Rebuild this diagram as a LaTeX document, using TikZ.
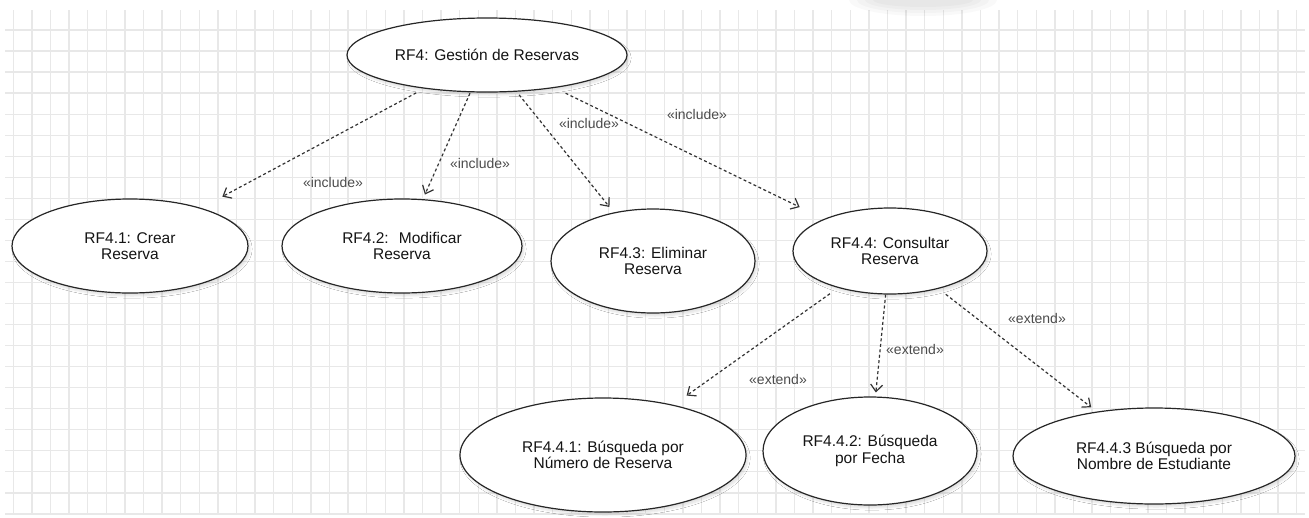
\documentclass[tikz,border=0pt]{standalone}
\usepackage{fontspec}
\setmainfont{Liberation Sans}
\usetikzlibrary{shapes.geometric,arrows.meta,shadows.blur}

\begin{document}
\begin{tikzpicture}[x=1pt,y=-1pt,
  usecase/.style={ellipse, draw=black!85, line width=1.2pt, fill=white,
    inner sep=0pt, align=center, text=black!92,
    font=\fontsize{15.5}{16.5}\selectfont,
    blur shadow={shadow xshift=2pt, shadow yshift=-3pt,
      shadow opacity=12, shadow blur steps=6}},
  rel/.style={draw=black!80, line width=1.2pt, dash pattern=on 3pt off 2.5pt,
    -{Straight Barb[length=7pt,width=12pt]}},
  stereo/.style={font=\fontsize{14}{14}\selectfont, text=black!70, inner sep=1pt},
  gridline/.style={draw=black!9, line width=1.3pt}
]
\useasboundingbox (0,0) rectangle (1309,517);
\fill[white] (0,0) rectangle (1309,517);

% background grid
\foreach \k in {0,...,69}
  \draw[gridline] ({13.3+18.6*\k},10) -- ({13.3+18.6*\k},515);
\foreach \k in {0,...,23}
  \draw[gridline] (5,{30+21.04*\k}) -- (1305,{30+21.04*\k});

% faint soft shadow at the top edge
\foreach \r/\s in {74/16, 66/13, 58/10, 50/7}
  \fill[black, opacity=0.025] (923,0) ellipse [x radius=\r pt, y radius=\s pt];

% use cases
\node[usecase, minimum width=280pt, minimum height=74pt]  (rf4)   at (487,55)  {RF4: Gestión de Reservas};
\node[usecase, minimum width=236pt, minimum height=94pt]  (rf41)  at (130,246) {RF4.1: Crear\\Reserva};
\node[usecase, minimum width=240pt, minimum height=94pt]  (rf42)  at (402,246) {RF4.2:~ Modificar\\Reserva};
\node[usecase, minimum width=204pt, minimum height=104pt] (rf43)  at (653,261) {RF4.3: Eliminar\\Reserva};
\node[usecase, minimum width=194pt, minimum height=86pt]  (rf44)  at (890,251) {RF4.4: Consultar\\Reserva};
\node[usecase, minimum width=286pt, minimum height=114pt] (rf441) at (603,455) {RF4.4.1: Búsqueda por\\Número de Reserva};
\node[usecase, minimum width=214pt, minimum height=108pt] (rf442) at (870,451) {RF4.4.2: Búsqueda\\por Fecha};
\node[usecase, minimum width=282pt, minimum height=96pt]  (rf443) at (1154,456) {RF4.4.3 Búsqueda por\\Nombre de Estudiante};

% include relations
\draw[rel, shorten <=9pt,  shorten >=24pt] (rf4) -- (rf41);
\draw[rel, shorten <=1pt,  shorten >=5pt]  (rf4) -- (rf42);
\draw[rel, shorten <=4pt,  shorten >=7pt]  (rf4) -- (rf43);
\draw[rel, shorten <=12pt, shorten >=27pt] (rf4) -- (rf44);

% extend relations
\draw[rel, shorten <=10pt, shorten >=16pt] (rf44) -- (rf441);
\draw[rel, shorten <=0pt,  shorten >=4pt]  (rf44) -- (rf442);
\draw[rel, shorten <=9pt,  shorten >=7pt]  (rf44) -- (rf443);

% stereotype labels
\node[stereo] (inc1) at (333,182) {«include»};
\node[stereo] (inc2) at (480,163) {«include»};
\node[stereo] (inc3) at (589,123) {«include»};
\node[stereo] (inc4) at (697,114) {«include»};
\node[stereo] (ext1) at (778,379) {«extend»};
\node[stereo] (ext2) at (915,349) {«extend»};
\node[stereo] (ext3) at (1037,318) {«extend»};
\end{tikzpicture}
\end{document}
